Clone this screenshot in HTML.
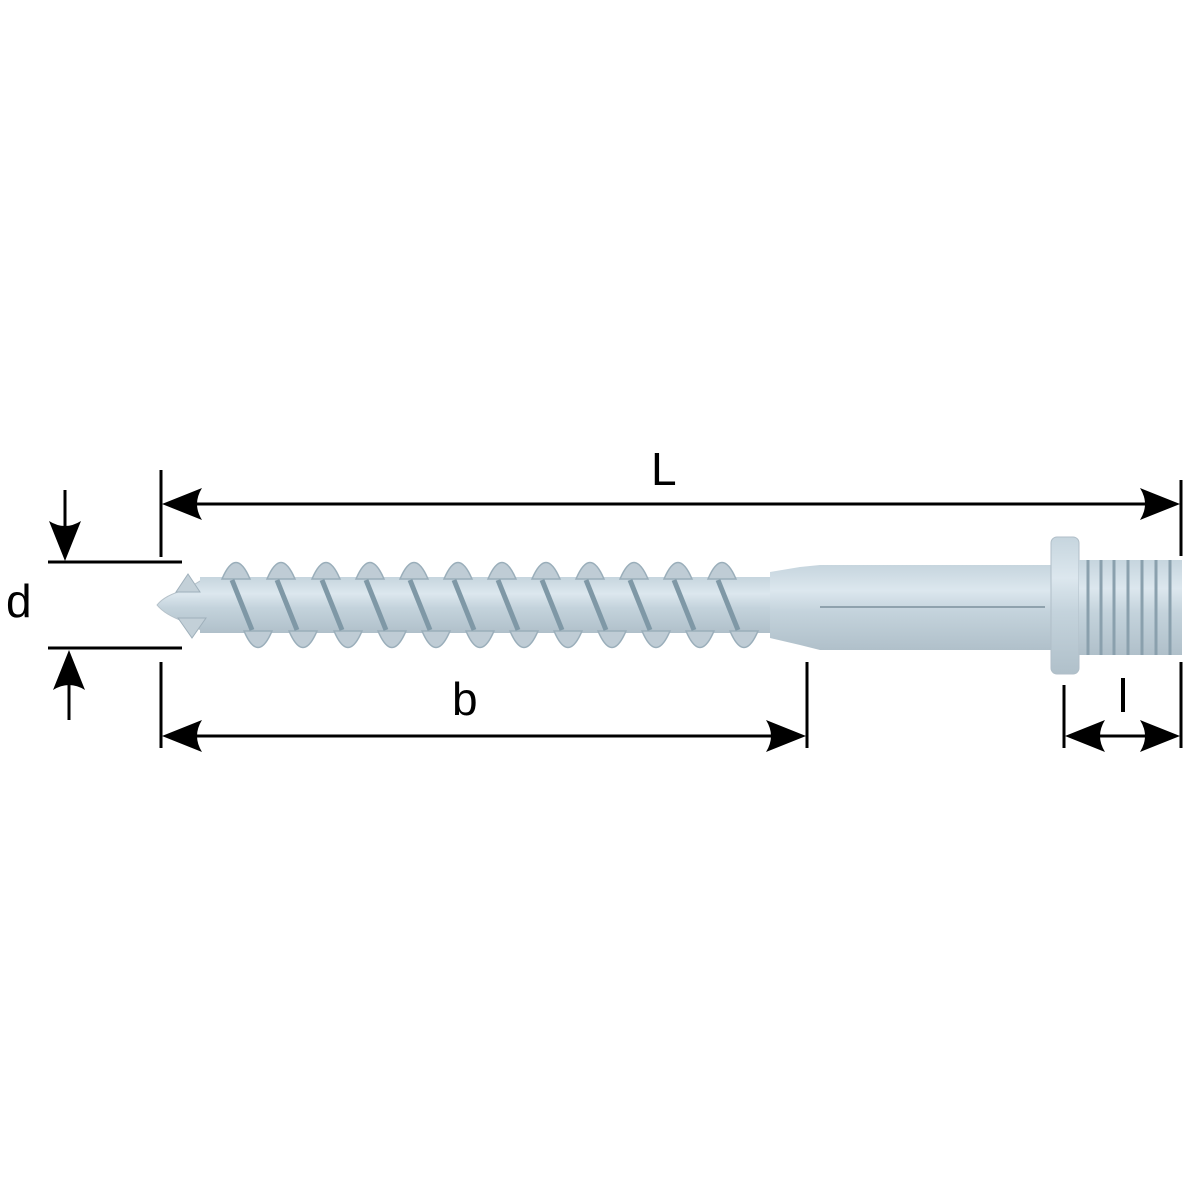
<!DOCTYPE html>
<html><head><meta charset="utf-8"><style>
html,body{margin:0;padding:0;background:#fff}
svg{display:block}
text{font-family:"Liberation Sans",Arial,sans-serif;fill:#000}
</style></head><body>
<svg width="1200" height="1200" viewBox="0 0 1200 1200" xmlns="http://www.w3.org/2000/svg">
<defs>
<linearGradient id="g" x1="0" y1="0" x2="0" y2="1">
<stop offset="0" stop-color="#c6d5de"/><stop offset="0.3" stop-color="#dce7ee"/><stop offset="0.55" stop-color="#c4d3dc"/><stop offset="1" stop-color="#b0c0ca"/>
</linearGradient>
<path id="ah" d="M0,0 L40,-16 Q30,0 40,16 Z"/>
</defs>
<g>
<path d="M157,605 Q165,595 185,590 L205,578 L205,632 L185,622 Q165,615 157,605 Z" fill="url(#g)" stroke="#b5c1c9"/>
<rect x="200" y="577" width="575" height="56" fill="url(#g)"/>
<g fill="#c3d0d8" stroke="#9fb0bb" stroke-width="1">
<path d="M176,592 L188,574 L200,592 Z"/>
<path d="M178,618 L192,638 L206,618 Z"/>
</g>
<g id="th" fill="#bfccd5" stroke="#9aaeba" stroke-width="1.5">
<path d="M222,579 Q236,546 250,579 Z"/><path d="M244,631 Q258,664 272,631 Z"/>
<path d="M232,580 L252,630" stroke="#7f98a6" stroke-width="5"/>
</g>
<use href="#th" x="45"/><use href="#th" x="90"/><use href="#th" x="134"/><use href="#th" x="178"/><use href="#th" x="222"/><use href="#th" x="266"/><use href="#th" x="310"/><use href="#th" x="354"/><use href="#th" x="398"/><use href="#th" x="442"/><use href="#th" x="486"/>
<path d="M770,572 L800,567 L820,565 L1052,565 L1052,650 L820,650 L800,645 L770,638 Z" fill="url(#g)"/>
<line x1="820" y1="607" x2="1045" y2="607" stroke="#8fa2ad" stroke-width="2"/>
<rect x="1051" y="537" width="28" height="137" rx="6" fill="url(#g)" stroke="#b0bec8"/>
<rect x="1079" y="560" width="103" height="95" fill="url(#g)"/>
<g stroke="#8aa0ad" stroke-width="3">
<line x1="1088" y1="560" x2="1088" y2="655"/><line x1="1101" y1="560" x2="1101" y2="655"/><line x1="1114" y1="560" x2="1114" y2="655"/><line x1="1128" y1="560" x2="1128" y2="655"/><line x1="1142" y1="560" x2="1142" y2="655"/><line x1="1156" y1="560" x2="1156" y2="655"/><line x1="1170" y1="560" x2="1170" y2="655"/>
</g>
</g>
<g stroke="#000" stroke-width="3" fill="none">
<line x1="161" y1="470" x2="161" y2="557"/>
<line x1="161" y1="662" x2="161" y2="748"/>
<line x1="1181" y1="480" x2="1181" y2="556"/>
<line x1="1181" y1="662" x2="1181" y2="748"/>
<line x1="807" y1="662" x2="807" y2="748"/>
<line x1="1064" y1="685" x2="1064" y2="748"/>
<line x1="1123" y1="678" x2="1123" y2="712" stroke-width="4"/>
<line x1="190" y1="504" x2="1150" y2="504"/>
<line x1="190" y1="736" x2="780" y2="736"/>
<line x1="1090" y1="736" x2="1155" y2="736"/>
<line x1="48" y1="562" x2="182" y2="562"/>
<line x1="48" y1="648" x2="182" y2="648"/>
<line x1="65" y1="490" x2="65" y2="530"/>
<line x1="69" y1="680" x2="69" y2="720"/>
</g>
<g fill="#000">
<use href="#ah" transform="translate(162,504)"/>
<use href="#ah" transform="translate(1180,504) rotate(180)"/>
<use href="#ah" transform="translate(162,736)"/>
<use href="#ah" transform="translate(806,736) rotate(180)"/>
<use href="#ah" transform="translate(1065,736)"/>
<use href="#ah" transform="translate(1180,736) rotate(180)"/>
<use href="#ah" transform="translate(65,561) rotate(-90)"/>
<use href="#ah" transform="translate(69,650) rotate(90)"/>
</g>
<text x="651" y="485" font-size="46">L</text>
<text x="452" y="715" font-size="46">b</text>
<text x="6" y="617" font-size="46">d</text>
</svg>
</body></html>
